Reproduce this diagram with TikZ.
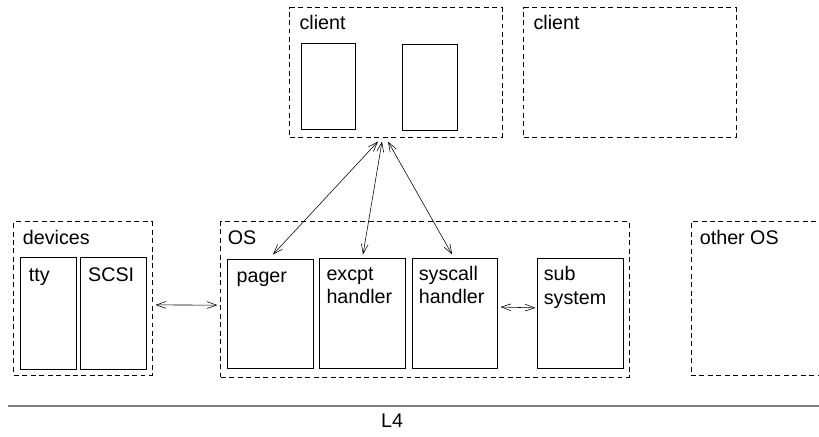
\documentclass[tikz,border=0pt]{standalone}
\usepackage{amsmath}
\usepackage{fontspec}
\setmainfont{Liberation Sans}
\usepackage{tikz}
\usetikzlibrary{arrows.meta}

\begin{document}
\begin{tikzpicture}[x=0.025cm,y=-0.025cm,
    font=\fontsize{14}{17}\selectfont,
    >={Straight Barb[length=2.4mm,width=1.7mm]},
    grupo/.style={draw, dash pattern=on 3.5pt off 2.5pt, line width=0.7pt, inner sep=0pt},
    caja/.style={draw, line width=0.7pt, inner sep=0pt},
    titulo/.style={anchor=base west, inner sep=0pt, align=left}]

        % Fija el marco del dibujo
        \useasboundingbox (0,0) rectangle (819,436);
        \clip (0,0) rectangle (819,436);

        % Dibuja los clientes
        \node[grupo, minimum width=5.3cm, minimum height=3.225cm] (cliente1) at (396,72.5) {};
        \node[grupo, minimum width=5.3cm, minimum height=3.225cm] (cliente2) at (630,72.5) {};
        \node[caja, minimum width=1.35cm, minimum height=2.15cm] (tareaA) at (328,86) {};
        \node[caja, minimum width=1.375cm, minimum height=2.15cm] (tareaB) at (429.5,87) {};
        \node[titulo] (tcliente1) at ([xshift=7pt,yshift=-16pt]cliente1.north west) {client};
        \node[titulo] (tcliente2) at ([xshift=7pt,yshift=-16pt]cliente2.north west) {client};

        % Dibuja los dispositivos
        \node[grupo, minimum width=3.45cm, minimum height=3.825cm] (devices) at (83,298.5) {};
        \node[caja, minimum width=1.4cm, minimum height=2.8cm] (tty) at (48,313) {};
        \node[caja, minimum width=1.65cm, minimum height=2.8cm] (scsi) at (113,313) {};
        \node[titulo] (tdevices) at ([xshift=6.5pt,yshift=-16.5pt]devices.north west) {devices};
        \node[titulo] (ttty) at ([xshift=6.5pt,yshift=-17.5pt]tty.north west) {tty};
        \node[titulo] (tscsi) at ([xshift=6pt,yshift=-18pt]scsi.north west) {SCSI};

        % Dibuja el sistema operativo
        \node[grupo, minimum width=10.2cm, minimum height=3.875cm] (os) at (425,299.5) {};
        \node[caja, minimum width=2.15cm, minimum height=2.725cm] (pager) at (270,313.5) {};
        \node[caja, minimum width=2.15cm, minimum height=2.75cm] (excpt) at (362,313) {};
        \node[caja, minimum width=2.125cm, minimum height=2.75cm] (syscall) at (454.5,313) {};
        \node[caja, minimum width=2.15cm, minimum height=2.75cm] (sub) at (580,313.5) {};
        \node[titulo] (tos) at ([xshift=5pt,yshift=-16.5pt]os.north west) {OS};
        \node[titulo] (tpager) at ([xshift=7pt,yshift=-17pt]pager.north west) {pager};
        % (el ancla base queda en la segunda linea)
        \node[titulo] (texcpt) at ([xshift=5.5pt,yshift=-33pt]excpt.north west) {excpt\\handler};
        \node[titulo] (tsyscall) at ([xshift=5pt,yshift=-33pt]syscall.north west) {syscall\\handler};
        \node[titulo] (tsub) at ([xshift=5pt,yshift=-33pt]sub.north west) {sub\\system};

        % Dibuja el otro sistema
        \node[grupo, minimum width=3.975cm, minimum height=3.825cm] (otro) at (770.5,298.5) {};
        \node[titulo] (totro) at ([xshift=6.5pt,yshift=-16.5pt]otro.north west) {other OS};

        % Dibuja las flechas
        \draw[<->] ([xshift=-0.45cm,yshift=-0.1cm]cliente1.south) -- ([xshift=0.075cm,yshift=0.1cm]pager.north);
        \draw[<->] ([xshift=-0.35cm,yshift=-0.1cm]cliente1.south) -- ([xshift=0.025cm,yshift=0.075cm]excpt.north);
        \draw[<->] ([xshift=-0.2cm,yshift=-0.1cm]cliente1.south) -- ([xshift=-0.06cm,yshift=0.075cm]syscall.north);
        \draw[<->] ([xshift=0.075cm,yshift=-0.16cm]devices.east) -- ([xshift=-0.075cm,yshift=-0.14cm]os.west);
        \draw[<->] ([xshift=0.075cm,yshift=0.15cm]syscall.east) -- ([xshift=-0.025cm,yshift=0.14cm]sub.west);

        % Dibuja la línea de L4
        \draw[gray, line width=0.8pt] (8,406) -- (819,406);
        \node (l4) at (392,421) {L4};
    \end{tikzpicture}
\end{document}
